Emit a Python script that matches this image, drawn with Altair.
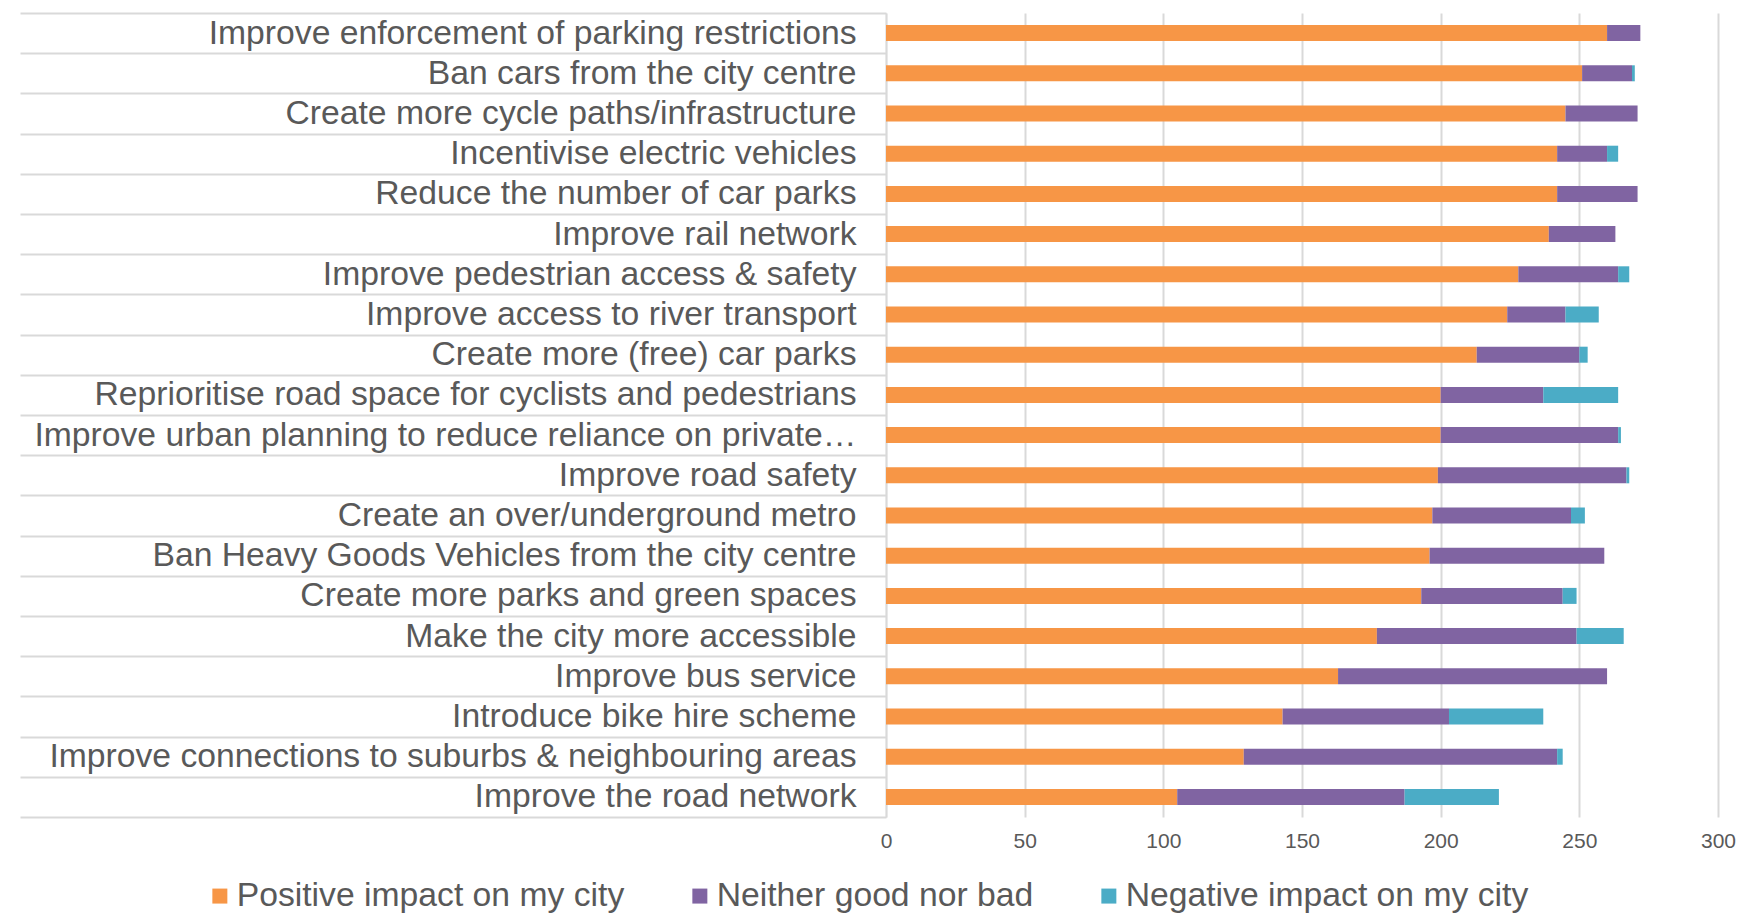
import altair as alt
import pandas as pd

categories = [
    "Improve enforcement of parking restrictions",
    "Ban cars from the city centre",
    "Create more cycle paths/infrastructure",
    "Incentivise electric vehicles",
    "Reduce the number of car parks",
    "Improve rail network",
    "Improve pedestrian access & safety",
    "Improve access to river transport",
    "Create more (free) car parks",
    "Reprioritise road space for cyclists and pedestrians",
    "Improve urban planning to reduce reliance on private…",
    "Improve road safety",
    "Create an over/underground metro",
    "Ban Heavy Goods Vehicles from the city centre",
    "Create more parks and green spaces",
    "Make the city more accessible",
    "Improve bus service",
    "Introduce bike hire scheme",
    "Improve connections to suburbs & neighbouring areas",
    "Improve the road network",
]
positive = [260, 251, 245, 242, 242, 239, 228, 224, 213, 200, 200, 199, 197, 196, 193, 177, 163, 143, 129, 105]
neither = [12, 18, 26, 18, 29, 24, 36, 21, 37, 37, 64, 68, 50, 63, 51, 72, 97, 60, 113, 82]
negative = [0, 1, 0, 4, 0, 0, 4, 12, 3, 27, 1, 1, 5, 0, 5, 17, 0, 34, 2, 34]

series = ["Positive impact on my city", "Neither good nor bad", "Negative impact on my city"]
colors = ["#F79646", "#8064A2", "#4BACC6"]
x_ticks = [0, 50, 100, 150, 200, 250, 300]

rows = []
for i, c in enumerate(categories):
    for k, vals in enumerate([positive, neither, negative]):
        rows.append({"category": c, "series": series[k], "value": vals[i], "order": k})
df = pd.DataFrame(rows)

FONT = "Liberation Sans, Arial, sans-serif"
GREY = "#d9d9d9"
TEXT = "#595959"

chart = alt.Chart(df).mark_bar(size=16).encode(
    y=alt.Y(
        "category:N",
        sort=categories,
        scale=alt.Scale(paddingInner=0, paddingOuter=0),
        axis=alt.Axis(
            title=None,
            domain=True,
            domainColor=GREY,
            domainWidth=1.5,
            ticks=True,
            tickBand="extent",
            tickSize=866,
            tickColor=GREY,
            tickWidth=2,
            labelFont=FONT,
            labelFontSize=33.7,
            labelColor=TEXT,
            labelLimit=900,
            labelPadding=-836,
            grid=False,
        ),
    ),
    x=alt.X(
        "value:Q",
        stack="zero",
        scale=alt.Scale(domain=[0, 300], nice=False),
        axis=alt.Axis(
            title=None,
            values=x_ticks,
            domain=False,
            ticks=False,
            grid=True,
            gridColor=GREY,
            gridWidth=2,
            labelFont=FONT,
            labelFontSize=21,
            labelColor=TEXT,
            labelPadding=13,
            labelFlush=False,
        ),
    ),
    color=alt.Color(
        "series:N",
        scale=alt.Scale(domain=series, range=colors),
        legend=alt.Legend(
            title=None,
            orient="none",
            direction="horizontal",
            legendX=-683,
            legendY=866,
            symbolType="square",
            symbolSize=225,
            symbolStrokeWidth=0,
            symbolOpacity=1,
            labelFont=FONT,
            labelFontSize=33.7,
            labelColor=TEXT,
            labelOffset=0,
            columnPadding=58,
            labelLimit=600,
        ),
    ),
    order=alt.Order("order:Q"),
).properties(
    width=832,
    height=804,
    autosize=alt.AutoSizeParams(type="none"),
    padding={"left": 878, "top": 5, "right": 18, "bottom": 96},
).configure_view(stroke=None)

chart.save("out.html", embed_options={"renderer": "svg", "actions": False})
